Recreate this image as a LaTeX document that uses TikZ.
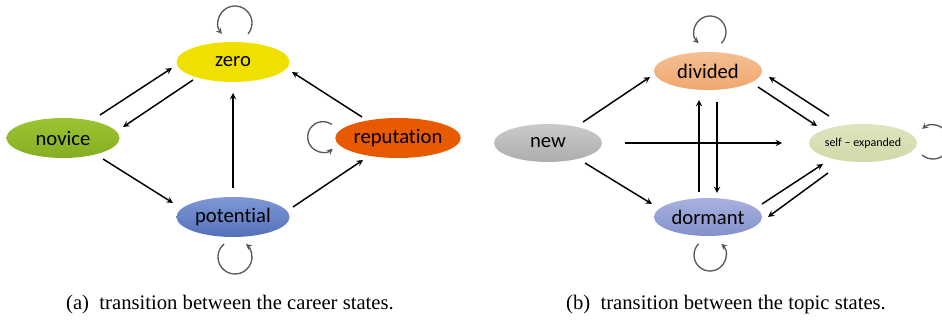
\documentclass[tikz,border=0pt]{standalone}
\usepackage{fontspec}
\setmainfont{Liberation Serif}
\newfontfamily\calibri[Ligatures={TeX,NoCommon}]{Carlito}
\usetikzlibrary{shapes}
\usetikzlibrary{arrows}
\definecolor{jaune}{HTML}{F0E000}
\definecolor{vertA}{HTML}{9CC534}
\definecolor{vertB}{HTML}{84AE22}
\definecolor{bleuA}{HTML}{7E98D6}
\definecolor{bleuB}{HTML}{5470BA}
\definecolor{orange}{HTML}{E85A00}
\definecolor{pecheA}{HTML}{F5BE92}
\definecolor{pecheB}{HTML}{EFA86E}
\definecolor{grisA}{HTML}{CACACA}
\definecolor{grisB}{HTML}{ADADAD}
\definecolor{lavA}{HTML}{A8B2DE}
\definecolor{lavB}{HTML}{8390CC}
\definecolor{oliveA}{HTML}{E0E4C0}
\definecolor{oliveB}{HTML}{D2D8A8}
\tikzstyle{etat}=[
        ellipse,
        inner sep=0pt,
        minimum width=84.75pt,
        minimum height=30pt,
        font=\calibri\fontsize{15.5}{18}\selectfont
]
\tikzstyle{petit}=[minimum width=81pt,minimum height=28.5pt]
\tikzstyle{suite}=[->,>=stealth,line width=1.1pt]
\tikzstyle{boucle}=[->,>=stealth,line width=1pt,draw=black!65]
\tikzstyle{legende}=[anchor=base,font=\fontsize{15.5}{18}\selectfont]
\begin{document}
\begin{tikzpicture}[x=0.75pt,y=-0.75pt]
\useasboundingbox (0,0) rectangle (942,320);
% (a) career states
\node[etat,fill=jaune] (zero) at (233,62) {zero};
\node[etat,top color=vertA,bottom color=vertB] (novice) at (63,138) {novice};
\node[etat,top color=bleuA,bottom color=bleuB] (potential) at (233,217) {potential};
\node[etat,fill=orange] (reputation) at (398,138) {reputation};
\draw[suite] ([shift={(37,-23)}]novice.center) -- ([shift={(-61,6)}]zero.center);
\draw[suite] ([shift={(-40,18)}]zero.center) -- ([shift={(60,-11)}]novice.center);
\draw[suite] ([shift={(40,21)}]novice.center) -- ([shift={(-60,-14)}]potential.center);
\draw[suite] ([shift={(0,-29)}]potential.center) -- ([shift={(0,31)}]zero.center);
\draw[suite] ([shift={(60,-10)}]potential.center) -- ([shift={(-35,22)}]reputation.center);
\draw[suite] ([shift={(-36,-21)}]reputation.center) -- ([shift={(59,10)}]zero.center);
\draw[boucle] ([shift={(2,-39)}]zero.center) ++(-40:12.75pt) arc[start angle=-40,end angle=220,radius=12.75pt];
\draw[boucle] ([shift={(2,40)}]potential.center) ++(130:12.75pt) arc[start angle=130,end angle=410,radius=12.75pt];
\draw[boucle] ([shift={(-75,-1)}]reputation.center) ++(55:11.5pt) arc[start angle=55,end angle=310,radius=11.5pt];
% (b) topic states
\node[etat,petit,top color=pecheA,bottom color=pecheB] (divided) at (708,71) {divided};
\node[etat,petit,top color=grisA,bottom color=grisB] (new) at (548,143) {new};
\node[etat,petit,top color=lavA,bottom color=lavB] (dormant) at (708,217) {dormant};
\node[etat,petit,top color=oliveA,bottom color=oliveB,font=\calibri\fontsize{9}{11}\selectfont] (selfexp) at (863,143) {self – expanded};
\draw[suite] ([shift={(35,-21)}]new.center) -- ([shift={(-58,6)}]divided.center);
\draw[suite] ([shift={(37,20)}]new.center) -- ([shift={(-56,-13)}]dormant.center);
\draw[suite] ([shift={(77,0)}]new.center) -- ([shift={(-81,0)}]selfexp.center);
\draw[suite] ([shift={(-9,-25)}]dormant.center) -- ([shift={(-9,29)}]divided.center);
\draw[suite] ([shift={(9,31)}]divided.center) -- ([shift={(9,-24)}]dormant.center);
\draw[suite] ([shift={(50,16)}]divided.center) -- ([shift={(-46,-17)}]selfexp.center);
\draw[suite] ([shift={(-34,-27)}]selfexp.center) -- ([shift={(61,6)}]divided.center);
\draw[suite] ([shift={(54,-13)}]dormant.center) -- ([shift={(-40,21)}]selfexp.center);
\draw[suite] ([shift={(-35,30)}]selfexp.center) -- ([shift={(60,0)}]dormant.center);
\draw[boucle] ([shift={(2,-39)}]divided.center) ++(-45:12pt) arc[start angle=-45,end angle=225,radius=12pt];
\draw[boucle] ([shift={(2,38)}]dormant.center) ++(135:12pt) arc[start angle=135,end angle=405,radius=12pt];
\draw[boucle] ([shift={(70,-1)}]selfexp.center) ++(-130:12.75pt) arc[start angle=-130,end angle=130,radius=12.75pt];
% legendes
\node[legende] (lega) at (230,310) {(a)\hspace{0.5em}transition between the career states.};
\node[legende] (legb) at (726,310) {(b)\hspace{0.5em}transition between the topic states.};
\end{tikzpicture}
\end{document}
